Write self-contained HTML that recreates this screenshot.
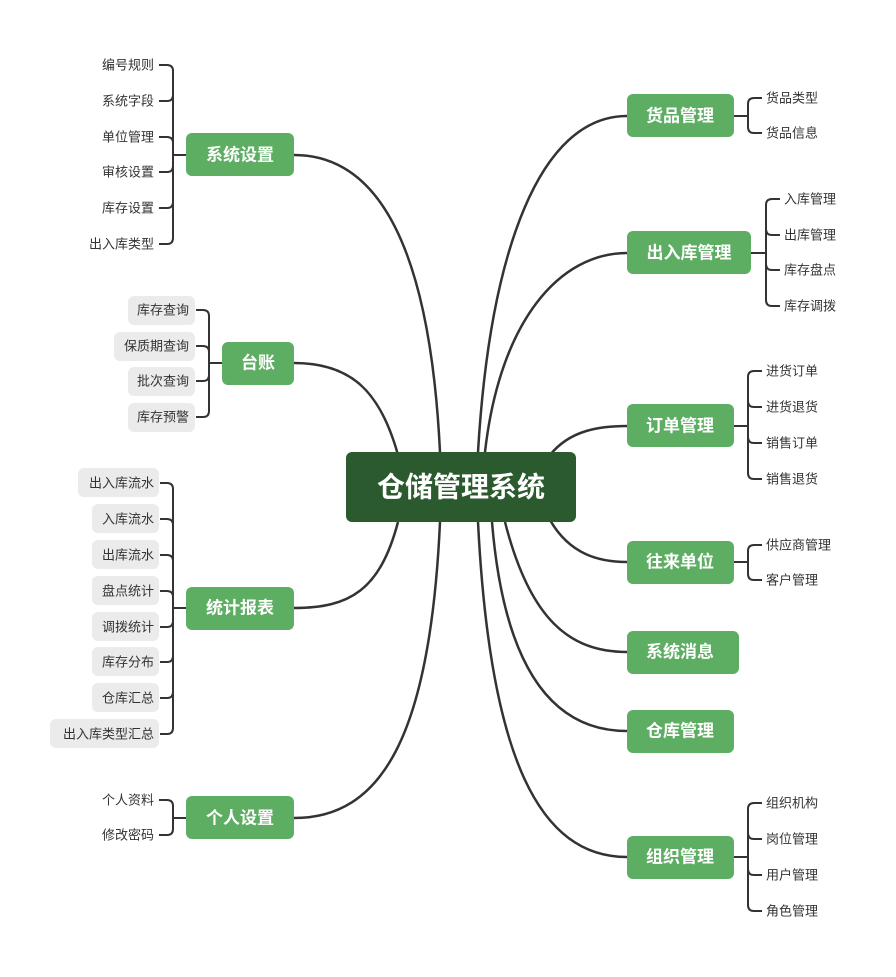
<!DOCTYPE html>
<html><head><meta charset="utf-8"><style>
html,body{margin:0;padding:0;background:#fff;}
svg{display:block;}
text{font-family:"Liberation Sans","Noto Sans CJK SC",sans-serif;}
.n{fill:#5dae63;}
.nt{fill:#fff;font-size:17px;font-weight:bold;text-anchor:middle;dominant-baseline:central;}
.c{fill:#333;font-size:13px;dominant-baseline:central;}
.r{text-anchor:end;}
.g{fill:#ebebeb;}
.l{fill:none;stroke:#333;stroke-width:2.5;}
.b{fill:none;stroke:#333;stroke-width:2;}
</style></head><body>
<svg width="896" height="977" viewBox="0 0 896 977" xmlns="http://www.w3.org/2000/svg">
<path class="l" d="M440,452 C430,250 380,155 294,155"/>
<path class="l" d="M398,455 C380,390 350,363 294,363"/>
<path class="l" d="M398,522 C380,590 350,608 294,608"/>
<path class="l" d="M440,522 C430,740 380,818 294,818"/>
<path class="l" d="M478,452 C490,250 540,116 627,116"/>
<path class="l" d="M485,452 C500,320 560,253 627,253"/>
<path class="l" d="M550,455 C570,430 600,426 627,426"/>
<path class="l" d="M550,520 C570,555 600,562 627,562"/>
<path class="l" d="M505,522 C530,620 570,652 627,652"/>
<path class="l" d="M492,522 C505,680 560,731 627,731"/>
<path class="l" d="M478,522 C490,760 540,857 627,857"/>

<rect x="346" y="452" width="230" height="70" rx="6" fill="#2b5a2e"/>
<text x="461" y="487" class="nt" style="font-size:28px">仓储管理系统</text>

<path class="b" d="M734,116H748M748,104V127M748,104Q748,98 754,98H762M748,127Q748,133 754,133H762"/>
<path class="b" d="M751,253H766M766,205V300M766,205Q766,199 772,199H780M766,229Q766,235 772,235H780M766,264Q766,270 772,270H780M766,300Q766,306 772,306H780"/>
<path class="b" d="M734,426H748M748,377V473M748,377Q748,371 754,371H762M748,401Q748,407 754,407H762M748,437Q748,443 754,443H762M748,473Q748,479 754,479H762"/>
<path class="b" d="M734,562H748M748,551V574M748,551Q748,545 754,545H762M748,574Q748,580 754,580H762"/>
<path class="b" d="M734,857H748M748,809V905M748,809Q748,803 754,803H762M748,833Q748,839 754,839H762M748,869Q748,875 754,875H762M748,905Q748,911 754,911H762"/>
<path class="b" d="M186,155H173M173,71V238M173,71Q173,65 167,65H159M173,95Q173,101 167,101H159M173,143Q173,137 167,137H159M173,166Q173,172 167,172H159M173,202Q173,208 167,208H159M173,238Q173,244 167,244H159"/>
<path class="b" d="M222,363H209M209,316V411M209,316Q209,310 203,310H196M209,352Q209,346 203,346H196M209,375Q209,381 203,381H196M209,411Q209,417 203,417H196"/>
<path class="b" d="M186,608H173M173,489V728M173,489Q173,483 167,483H160M173,525Q173,519 167,519H160M173,561Q173,555 167,555H160M173,597Q173,591 167,591H160M173,621Q173,627 167,627H160M173,656Q173,662 167,662H160M173,692Q173,698 167,698H160M173,728Q173,734 167,734H160"/>
<path class="b" d="M186,818H173M173,806V829M173,806Q173,800 167,800H159M173,829Q173,835 167,835H159"/>

<rect class="n" x="627" y="94" width="107" height="43" rx="6"/><text class="nt" x="680" y="116">货品管理</text>
<rect class="n" x="627" y="231" width="124" height="43" rx="6"/><text class="nt" x="689" y="253">出入库管理</text>
<rect class="n" x="627" y="404" width="107" height="43" rx="6"/><text class="nt" x="680" y="426">订单管理</text>
<rect class="n" x="627" y="541" width="107" height="43" rx="6"/><text class="nt" x="680" y="562">往来单位</text>
<rect class="n" x="627" y="631" width="112" height="43" rx="6"/><text class="nt" x="680" y="652">系统消息</text>
<rect class="n" x="627" y="710" width="107" height="43" rx="6"/><text class="nt" x="680" y="731">仓库管理</text>
<rect class="n" x="627" y="836" width="107" height="43" rx="6"/><text class="nt" x="680" y="857">组织管理</text>

<text class="c" x="766" y="98">货品类型</text><text class="c" x="766" y="133">货品信息</text>
<text class="c" x="784" y="199">入库管理</text><text class="c" x="784" y="235">出库管理</text><text class="c" x="784" y="270">库存盘点</text><text class="c" x="784" y="306">库存调拨</text>
<text class="c" x="766" y="371">进货订单</text><text class="c" x="766" y="407">进货退货</text><text class="c" x="766" y="443">销售订单</text><text class="c" x="766" y="479">销售退货</text>
<text class="c" x="766" y="545">供应商管理</text><text class="c" x="766" y="580">客户管理</text>
<text class="c" x="766" y="803">组织机构</text><text class="c" x="766" y="839">岗位管理</text><text class="c" x="766" y="875">用户管理</text><text class="c" x="766" y="911">角色管理</text>

<rect class="n" x="186" y="133" width="108" height="43" rx="6"/><text class="nt" x="240" y="155">系统设置</text>
<rect class="n" x="222" y="342" width="72" height="43" rx="6"/><text class="nt" x="258" y="363">台账</text>
<rect class="n" x="186" y="587" width="108" height="43" rx="6"/><text class="nt" x="240" y="608">统计报表</text>
<rect class="n" x="186" y="796" width="108" height="43" rx="6"/><text class="nt" x="240" y="818">个人设置</text>

<text class="c r" x="154" y="65">编号规则</text><text class="c r" x="154" y="101">系统字段</text><text class="c r" x="154" y="137">单位管理</text><text class="c r" x="154" y="172">审核设置</text><text class="c r" x="154" y="208">库存设置</text><text class="c r" x="154" y="244">出入库类型</text>
<text class="c r" x="154" y="800">个人资料</text><text class="c r" x="154" y="835">修改密码</text>

<rect class="g" x="128" y="296" width="67" height="29" rx="6"/><text class="c r" x="189" y="310">库存查询</text>
<rect class="g" x="114" y="332" width="81" height="29" rx="6"/><text class="c r" x="189" y="346">保质期查询</text>
<rect class="g" x="128" y="367" width="67" height="29" rx="6"/><text class="c r" x="189" y="381">批次查询</text>
<rect class="g" x="128" y="403" width="67" height="29" rx="6"/><text class="c r" x="189" y="417">库存预警</text>

<rect class="g" x="78" y="468" width="81" height="29" rx="6"/><text class="c r" x="154" y="483">出入库流水</text>
<rect class="g" x="92" y="504" width="67" height="29" rx="6"/><text class="c r" x="154" y="519">入库流水</text>
<rect class="g" x="92" y="540" width="67" height="29" rx="6"/><text class="c r" x="154" y="555">出库流水</text>
<rect class="g" x="92" y="576" width="67" height="29" rx="6"/><text class="c r" x="154" y="591">盘点统计</text>
<rect class="g" x="92" y="612" width="67" height="29" rx="6"/><text class="c r" x="154" y="627">调拨统计</text>
<rect class="g" x="92" y="647" width="67" height="29" rx="6"/><text class="c r" x="154" y="662">库存分布</text>
<rect class="g" x="92" y="683" width="67" height="29" rx="6"/><text class="c r" x="154" y="698">仓库汇总</text>
<rect class="g" x="50" y="719" width="109" height="29" rx="6"/><text class="c r" x="154" y="734">出入库类型汇总</text>
</svg>
</body></html>
